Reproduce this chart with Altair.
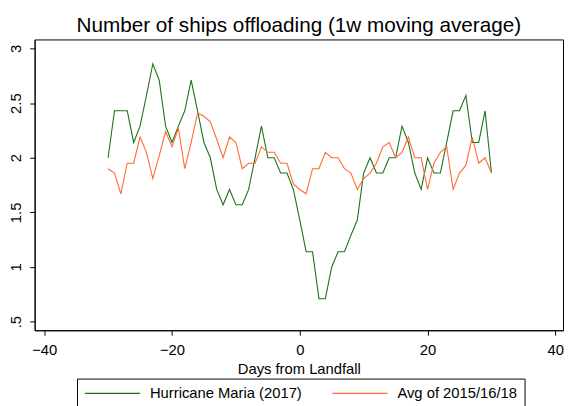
import altair as alt
import pandas as pd

days = list(range(-30, 31))

maria = [2.00, 2.43, 2.43, 2.43, 2.14, 2.29, 2.57, 2.86, 2.71, 2.29,
         2.14, 2.29, 2.43, 2.71, 2.43, 2.14, 2.00, 1.71, 1.57, 1.71,
         1.57, 1.57, 1.71, 2.00, 2.29, 2.00, 2.00, 1.86, 1.86, 1.71,
         1.43, 1.14, 1.14, 0.71, 0.71, 1.00, 1.14, 1.14, 1.29, 1.43,
         1.86, 2.00, 1.86, 1.86, 2.00, 2.00, 2.29, 2.14, 1.86, 1.71,
         2.00, 1.86, 1.86, 2.14, 2.43, 2.43, 2.57, 2.14, 2.14, 2.43,
         1.86]

avg = [1.90, 1.86, 1.67, 1.95, 1.95, 2.19, 2.05, 1.81, 2.02, 2.24,
       2.10, 2.27, 1.90, 2.14, 2.41, 2.38, 2.33, 2.17, 2.00, 2.19,
       2.14, 1.90, 1.95, 1.95, 2.10, 2.05, 2.05, 1.95, 1.95, 1.76,
       1.71, 1.67, 1.90, 1.90, 2.05, 2.00, 2.00, 1.90, 1.86, 1.71,
       1.81, 1.86, 1.95, 2.10, 2.14, 2.00, 2.05, 2.19, 2.00, 2.00,
       1.71, 1.95, 2.05, 2.10, 1.71, 1.86, 1.93, 2.19, 1.95, 2.00,
       1.86]

series_names = ["Hurricane Maria (2017)", "Avg of 2015/16/18"]
series_colors = ["#1a731a", "#ff6a33"]
x_ticks = [-40, -20, 0, 20, 40]
y_ticks = [0.5, 1, 1.5, 2, 2.5, 3]

rows = []
for d, v in zip(days, maria):
    rows.append({"day": d, "value": v, "series": series_names[0]})
for d, v in zip(days, avg):
    rows.append({"day": d, "value": v, "series": series_names[1]})
df = pd.DataFrame(rows)

FONT = "Liberation Sans"

chart = alt.Chart(df).mark_line(strokeWidth=1.1).encode(
    x=alt.X("day:Q",
            scale=alt.Scale(domain=[-41.5, 41.2], nice=False, zero=False),
            axis=alt.Axis(values=x_ticks, title="Days from Landfall", grid=False,
                          domainColor="black", tickColor="black", tickSize=5,
                          labelFontSize=15, labelFont=FONT, labelColor="black",
                          labelPadding=8, titleFontSize=15, titleFont=FONT,
                          titleFontWeight="normal", titleColor="black", titlePadding=4)),
    y=alt.Y("value:Q",
            scale=alt.Scale(domain=[0.421, 3.083], nice=False, zero=False),
            axis=alt.Axis(values=y_ticks, title=None, grid=False,
                          domainColor="black", tickColor="black", tickSize=5,
                          labelAngle=270, labelAlign="center", labelBaseline="bottom",
                          labelFontSize=15, labelFont=FONT, labelColor="black",
                          labelPadding=6,
                          labelExpr="datum.value == 0.5 ? '.5' : format(datum.value, '~g')")),
    color=alt.Color("series:N",
                    scale=alt.Scale(domain=series_names, range=series_colors),
                    sort=series_names,
                    legend=alt.Legend(title=None, orient="none", legendX=43, legendY=344,
                                      direction="horizontal", columns=2,
                                      symbolType="M-1,0H7", symbolSize=196,
                                      symbolStrokeWidth=1.1,
                                      labelFontSize=15, labelFont=FONT, labelColor="black",
                                      labelOffset=51, columnPadding=27, padding=7,
                                      strokeColor="black", fillColor="white",
                                      labelLimit=300)),
    order=alt.Order("day:Q"),
).properties(
    width=536, height=295,
    title=alt.TitleParams("Number of ships offloading (1w moving average)",
                          fontSize=21, font=FONT, fontWeight="normal", color="black",
                          anchor="middle", offset=4),
    autosize=alt.AutoSizeParams(type="none"),
    padding={"left": 27, "top": 29, "right": 1, "bottom": 80},
).configure_view(stroke="black", strokeWidth=1)

chart.save("out.html", embed_options={"renderer": "svg", "actions": False})
